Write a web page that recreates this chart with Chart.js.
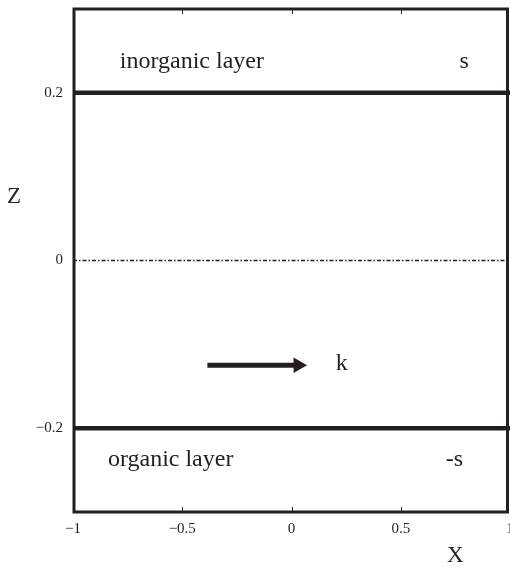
<!DOCTYPE html>
<html>
<head>
<meta charset="utf-8">
<script src="https://cdn.jsdelivr.net/npm/chart.js@4.4.0/dist/chart.umd.min.js"></script>
<style>
  html, body { margin: 0; padding: 0; background: #fff; overflow: hidden; }
  #wrap { width: 530px; height: 567px; position: relative; }
</style>
</head>
<body>
<div id="wrap"><canvas id="chart_layers" width="530" height="567"></canvas></div>
<script>
// axis ranges and ticks
const xRange = [-1, 1];
const zRange = [-0.3, 0.3];
const xTicks = [-1, -0.5, 0, 0.5, 1];
const zTicks = [-0.2, 0, 0.2];

// interface lines (z positions) and the mid plane
const layerX = [-1, 1];
const upperInterface = [0.2, 0.2];
const lowerInterface = [-0.2, -0.2];
const midPlane = [0, 0];

// wave vector arrow
const arrowX = [-0.385, 0.03];
const arrowZ = [-0.125, -0.125];

// text annotations in data coordinates
const noteTexts = ["inorganic layer", "s", "organic layer", "-s", "k"];
const noteX = [-0.456, 0.79, -0.553, 0.746, 0.23];
const noteZ = [0.237, 0.237, -0.238, -0.238, -0.123];

const ink = "#231f20";

function fmt(v){
    return String(v).replace("-", "\u2212");
}

function pts(xs, ys){
    return xs.map((x, i) => ({x: x, y: ys[i]}));
}

const framePlugin = {
    id: "frame",
    afterDraw(chart){
        const ctx = chart.ctx;
        const area = chart.chartArea;
        const xs = chart.scales.x;
        ctx.save();
        ctx.strokeStyle = ink;
        // inward tick marks on top and bottom
        ctx.lineWidth = 1;
        xTicks.forEach(v => {
            const px = Math.round(xs.getPixelForValue(v)) + 0.5;
            ctx.beginPath();
            ctx.moveTo(px, area.top);
            ctx.lineTo(px, area.top + 5);
            ctx.moveTo(px, area.bottom);
            ctx.lineTo(px, area.bottom - 5);
            ctx.stroke();
        });
        // frame, right side pulled in so it stays inside the window
        ctx.lineWidth = 3;
        ctx.strokeRect(area.left + 1, area.top, area.right - area.left - 3.5, area.bottom - area.top);

        // annotations
        ctx.fillStyle = ink;
        ctx.font = "24px 'Liberation Serif', 'DejaVu Serif', serif";
        ctx.textAlign = "center";
        ctx.textBaseline = "middle";
        noteTexts.forEach((t, i) => {
            ctx.fillText(t, xs.getPixelForValue(noteX[i]), chart.scales.y.getPixelForValue(noteZ[i]));
        });

        // axis names
        ctx.font = "23px 'Liberation Serif', 'DejaVu Serif', serif";
        ctx.fillText("Z", 14, chart.scales.y.getPixelForValue(0.076));
        ctx.fillText("X", xs.getPixelForValue(0.75), 556);
        ctx.restore();
    }
};

new Chart(document.getElementById("chart_layers"), {
    type: "scatter",
    plugins: [framePlugin],
    data: {
        datasets: [
            {
                data: pts(layerX, upperInterface),
                showLine: true, borderColor: ink, borderWidth: 4.5,
                pointRadius: 0
            },
            {
                data: pts(layerX, lowerInterface),
                showLine: true, borderColor: ink, borderWidth: 4.5,
                pointRadius: 0
            },
            {
                data: pts(layerX, midPlane),
                showLine: true, borderColor: ink, borderWidth: 1.3,
                borderDash: [4, 2, 1.5, 2],
                pointRadius: 0
            },
            {
                data: pts(arrowX, arrowZ),
                showLine: true, borderColor: ink, borderWidth: 5,
                pointStyle: "triangle",
                pointRotation: 90,
                pointRadius: [0, 9],
                pointBackgroundColor: ink,
                pointBorderColor: ink,
                pointBorderWidth: 0
            }
        ]
    },
    options: {
        responsive: false,
        animation: false,
        events: [],
        layout: { padding: { left: 0, top: 9, right: 20, bottom: 0 } },
        plugins: { legend: { display: false }, tooltip: { enabled: false } },
        scales: {
            x: {
                type: "linear",
                min: xRange[0], max: xRange[1],
                afterBuildTicks: s => { s.ticks = xTicks.map(v => ({value: v})); },
                afterFit: s => { s.height = 55; s.paddingLeft = 0; s.paddingRight = 0; },
                grid: { display: false, drawTicks: false },
                border: { display: false },
                ticks: {
                    color: ink, padding: 8,
                    font: { family: "'Liberation Serif', serif", size: 15 },
                    callback: v => fmt(v)
                }
            },
            y: {
                type: "linear",
                min: zRange[0], max: zRange[1],
                afterBuildTicks: s => { s.ticks = zTicks.map(v => ({value: v})); },
                afterFit: s => { s.width = 73; s.paddingTop = 0; s.paddingBottom = 0; },
                grid: { display: false, drawTicks: false },
                border: { display: false },
                ticks: {
                    color: ink, padding: 10,
                    font: { family: "'Liberation Serif', serif", size: 15 },
                    callback: v => fmt(v)
                }
            }
        }
    }
});
</script>
</body>
</html>
